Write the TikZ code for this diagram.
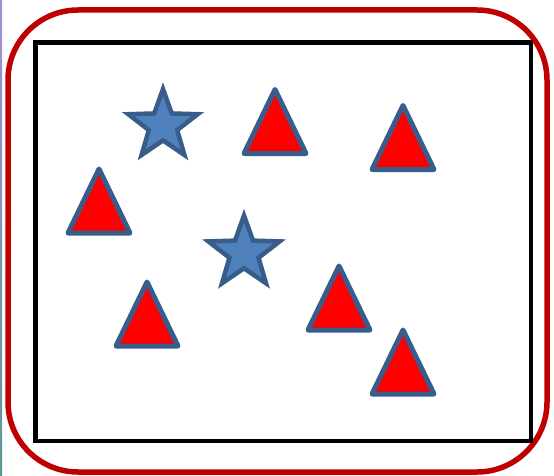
\documentclass[tikz,border=0pt]{standalone}
\usepackage{xcolor}
\usepackage{tikz}
\usetikzlibrary{shapes.geometric}

\definecolor{frameRed}{HTML}{C00000}
\definecolor{edgeBlue}{HTML}{385D8A}
\definecolor{starBlue}{HTML}{4F81BD}
\definecolor{stripTop}{HTML}{A590D2}
\definecolor{stripBot}{HTML}{5A9A92}

% red triangle, given apex x and top y
\newcommand{\redtri}[2]{\draw[tri] (#1,#2+2.5) -- ++(31,64) -- ++(-62,0) -- cycle;}

\begin{document}
\begin{tikzpicture}[x=1pt, y=-1pt,
    tri/.style={line width=5pt, draw=edgeBlue, fill=red, line join=round},
    bluestar/.style={star, star points=5, star point ratio=2.45, draw=edgeBlue,
      fill=starBlue, line width=4.5pt, inner sep=0pt}]
  \useasboundingbox (0,0) rectangle (554,476);

  % strip at the left edge
  \shade[top color=stripTop, bottom color=stripBot] (0,0) rectangle (2,476);

  % outer frame and inner box
  \draw[frameRed, line width=5.5pt, rounded corners=70pt] (8,10) rectangle (547,472);
  \draw[black, line width=4.5pt] (35.5,42.5) rectangle (531,441);

  % stars
  \node[bluestar, minimum size=73pt] (star1) at (163,125.5) {};
  \node[bluestar, minimum size=75pt] (star2) at (244,253) {};

  % triangles
  \redtri{275}{87}
  \redtri{403}{103}
  \redtri{99}{166.5}
  \redtri{147}{279.5}
  \redtri{339}{263.5}
  \redtri{403}{327.5}

\end{tikzpicture}
\end{document}
